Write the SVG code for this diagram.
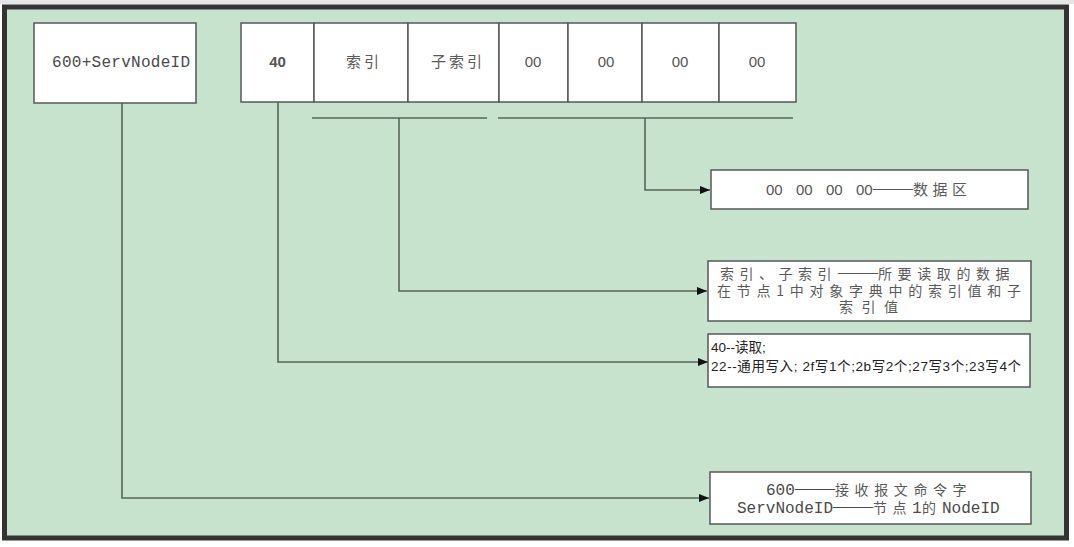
<svg xmlns="http://www.w3.org/2000/svg" width="1074" height="547" viewBox="0 0 1074 547">
  <defs>
    <marker id="arr" viewBox="0 0 10 8" refX="10" refY="4" markerWidth="10" markerHeight="8" markerUnits="userSpaceOnUse" orient="auto">
      <path d="M0,0 L10,4 L0,8 Z" fill="#111"/>
    </marker>
    <style>
      .box { fill: #ffffff; stroke: #555a55; stroke-width: 1.5; }
      .cell { fill: #ffffff; stroke: #555a55; stroke-width: 1.5; }
      .wire { fill: none; stroke: #56665a; stroke-width: 1.6; }
      .mono { font-family: "Liberation Mono", "Noto Sans CJK SC", monospace; fill: #4a4a4a; }
      .sans { font-family: "Liberation Sans", "Noto Sans CJK SC", sans-serif; fill: #555; }
      .cjk { font-family: "Noto Sans CJK SC", "Liberation Serif", sans-serif; fill: #5a5a5a; }
      .dash { font-family: "Liberation Serif", serif; font-size: 20px; letter-spacing: 0; }
      .dark { font-family: "Liberation Sans", "Noto Sans CJK SC", sans-serif; fill: #222; }
    </style>
  </defs>

  <rect x="0" y="0" width="1074" height="547" fill="#ffffff"/>
  <rect x="0" y="0" width="1074" height="4" fill="#e6e6e6"/>
  <rect x="4.5" y="7" width="1062" height="531" fill="#c7e2cd" stroke="#333333" stroke-width="5"/>

  <g id="connectors">
    <path class="wire" d="M122,103 V498 H709" marker-end="url(#arr)"/>
    <path class="wire" d="M278,102 V362 H708" marker-end="url(#arr)"/>
    <path class="wire" d="M312,118 H487"/>
    <path class="wire" d="M399,118 V291 H707" marker-end="url(#arr)"/>
    <path class="wire" d="M498,118 H793"/>
    <path class="wire" d="M645,118 V190 H710" marker-end="url(#arr)"/>
  </g>

  <g id="node-servnode">
    <rect class="box" x="34" y="23" width="162" height="80"/>
    <text class="mono" x="52" y="67" font-size="16" textLength="138">600+ServNodeID</text>
  </g>

  <g id="node-frame">
    <g id="cell-40">
      <rect class="cell" x="241" y="23" width="73" height="79"/>
      <text class="sans" x="277.5" y="67" font-size="15" font-weight="bold" text-anchor="middle" fill="#444">40</text>
    </g>
    <g id="cell-index">
      <rect class="cell" x="314" y="23" width="94" height="79"/>
      <text class="cjk" x="364" y="67" font-size="15" text-anchor="middle" letter-spacing="3" fill="#777">索引</text>
    </g>
    <g id="cell-subindex">
      <rect class="cell" x="408" y="23" width="91" height="79"/>
      <text class="cjk" x="458" y="67" font-size="15" text-anchor="middle" letter-spacing="3" fill="#777">子索引</text>
    </g>
    <g id="cell-d1">
      <rect class="cell" x="499" y="23" width="69" height="79"/>
      <text class="sans" x="533" y="67" font-size="15" text-anchor="middle">00</text>
    </g>
    <g id="cell-d2">
      <rect class="cell" x="568" y="23" width="74" height="79"/>
      <text class="sans" x="606" y="67" font-size="15" text-anchor="middle">00</text>
    </g>
    <g id="cell-d3">
      <rect class="cell" x="642" y="23" width="77" height="79"/>
      <text class="sans" x="680" y="67" font-size="15" text-anchor="middle">00</text>
    </g>
    <g id="cell-d4">
      <rect class="cell" x="719" y="23" width="77" height="79"/>
      <text class="sans" x="757" y="67" font-size="15" text-anchor="middle">00</text>
    </g>
  </g>

  <g id="node-data">
    <rect class="box" x="711" y="170" width="317" height="39"/>
    <text class="sans" y="195" font-size="15" fill="#444"><tspan x="766">00</tspan><tspan x="796">00</tspan><tspan x="826">00</tspan><tspan x="856">00</tspan><tspan class="dash" x="873">——</tspan><tspan class="cjk" x="913" letter-spacing="4.5">数据区</tspan></text>
  </g>

  <g id="node-index-desc">
    <rect class="box" x="708" y="261" width="323" height="60"/>
    <text class="cjk" y="279" font-size="14"><tspan x="720" letter-spacing="5.5">索引、子索引</tspan><tspan class="dash" x="838">——</tspan><tspan x="878" letter-spacing="5.6">所要读取的数据</tspan></text>
    <text class="cjk" x="717" y="296" font-size="14" textLength="304">在节点1中对象字典中的索引值和子</text>
    <text class="cjk" x="839" y="312" font-size="14" textLength="59">索引值</text>
  </g>

  <g id="node-cmd">
    <rect class="box" x="708" y="334" width="322" height="53"/>
    <text class="dark" x="711" y="352" font-size="13.5">40--读取;</text>
    <text class="dark" x="711" y="371" font-size="13.5" textLength="310">22--通用写入; 2f写1个;2b写2个;27写3个;23写4个</text>
  </g>

  <g id="node-cob">
    <rect class="box" x="710" y="472" width="321" height="52"/>
    <text class="mono" y="495" font-size="16" fill="#555"><tspan x="766">600</tspan><tspan class="dash" x="795">——</tspan><tspan class="cjk" x="835" font-size="14" letter-spacing="5.6">接收报文命令字</tspan></text>
    <text class="mono" y="513" font-size="16" fill="#555"><tspan x="737">ServNodeID</tspan><tspan class="dash" x="833">——</tspan><tspan class="cjk" x="873" font-size="14" letter-spacing="5.5">节点</tspan><tspan x="912">1</tspan><tspan class="cjk" x="922" font-size="14">的</tspan><tspan x="942">NodeID</tspan></text>
  </g>
</svg>
